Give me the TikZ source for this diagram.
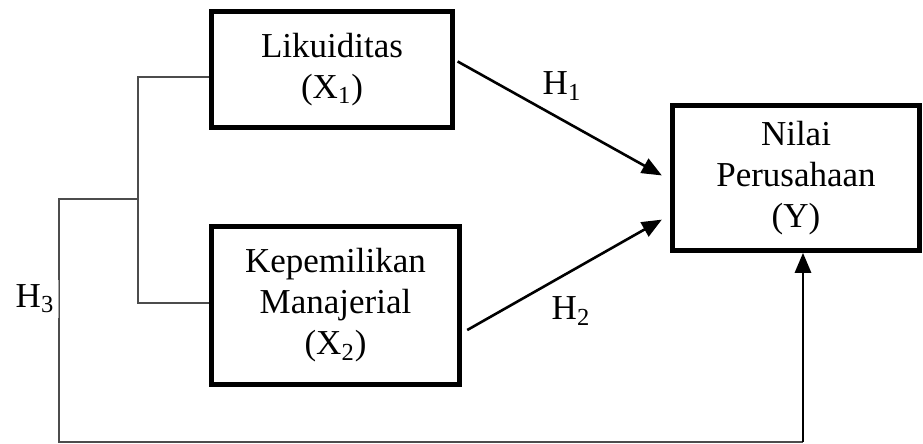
\documentclass[tikz,border=0pt]{standalone}
\usepackage{fontspec}
\setmainfont{Liberation Serif}
\usepackage{tikz}
\usetikzlibrary{positioning}
\usetikzlibrary{arrows}

\tikzset{
  varbox/.style={draw,line width=2.5pt,align=center,inner sep=0pt},
  link/.style={draw=black!70,line width=1pt},
  path/.style={line width=1.3pt}
}

\begin{document}
\begin{tikzpicture}[>=triangle 45,x=0.5pt,y=-0.5pt]
\fontsize{17.5}{20.5}\selectfont
\useasboundingbox (0,0) rectangle (923,444);

\node[varbox,minimum width=120.5pt,minimum height=58pt] (likuiditas) at (332,69.5) {Likuiditas \\ (X\textsubscript{1})};

\node[varbox,minimum width=124pt,minimum height=79pt] (kepemilikan) at (335.5,305.5) {Kepemilikan \\ Manajerial \\ (X\textsubscript{2})};

\node[varbox,minimum width=123.5pt,minimum height=72.5pt] (nilai) at (796,178) {Nilai \\ Perusahaan \\ (Y)};


\coordinate (split) at (138,199);
\coordinate (kiri) at (59,199);
\coordinate (bawah) at (803,442);

\draw[link] ([yshift=-3.75pt]likuiditas.west) -| (split) |- ([yshift=1.25pt]kepemilikan.west);
\draw[link] (split) -- (kiri) |- (bawah);

\draw[->,path,shorten <=1.5pt,shorten >=4.75pt] ([yshift=4.75pt]likuiditas.east) to ([yshift=-1pt]nilai.west);
\draw[->,path,shorten <=3pt,shorten >=4.75pt] ([yshift=-13.75pt]kepemilikan.east) to ([yshift=-18.5pt]nilai.west);
\draw[->,path] (bawah) to (bawah |- nilai.south);

\node (h1) at (562,86) {H\textsubscript{1}};
\node (h2) at (571,311) {H\textsubscript{2}};
\node[fill=white,fill opacity=0.5,text opacity=1,inner sep=2.5pt] (h3) at (35,299) {H\textsubscript{3}};

\end{tikzpicture}
\end{document}
